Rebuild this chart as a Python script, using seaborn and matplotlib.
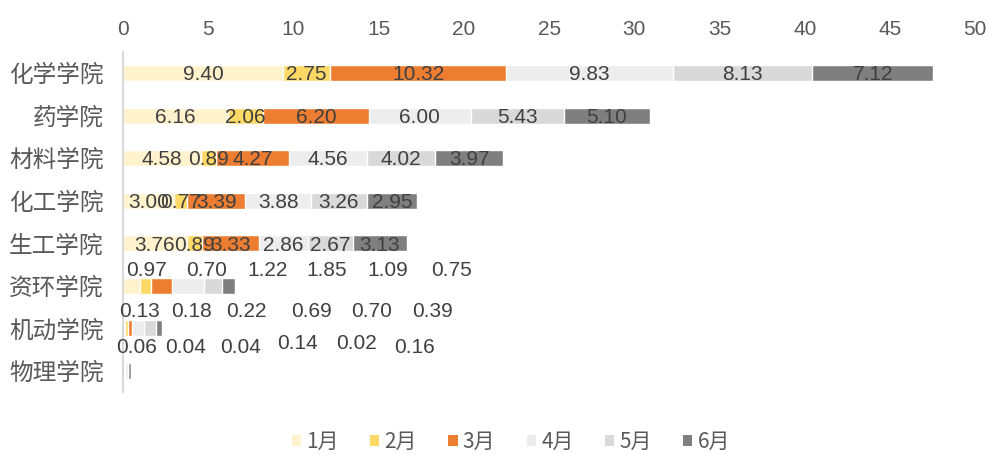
import pandas as pd
import seaborn as sns
import matplotlib.pyplot as plt
from matplotlib.patches import Patch

# data
colleges = ["化学学院", "药学院", "材料学院", "化工学院", "生工学院", "资环学院", "机动学院", "物理学院"]
months = ["1月", "2月", "3月", "4月", "5月", "6月"]
m1 = [9.40, 6.16, 4.58, 3.00, 3.76, 0.97, 0.13, 0.06]
m2 = [2.75, 2.06, 0.89, 0.77, 0.89, 0.70, 0.18, 0.04]
m3 = [10.32, 6.20, 4.27, 3.39, 3.33, 1.22, 0.22, 0.04]
m4 = [9.83, 6.00, 4.56, 3.88, 2.86, 1.85, 0.69, 0.14]
m5 = [8.13, 5.43, 4.02, 3.26, 2.67, 1.09, 0.70, 0.02]
m6 = [7.12, 5.10, 3.97, 2.95, 3.13, 0.75, 0.39, 0.16]

colors = ["#FFF2CC", "#FFD966", "#ED7D31", "#EDEDED", "#D9D9D9", "#7F7F7F"]

sns.set_theme(style="white")
plt.rcParams['font.family'] = ['Noto Sans CJK SC', 'DejaVu Sans']

df = pd.DataFrame({"college": colleges, "1月": m1, "2月": m2, "3月": m3,
                   "4月": m4, "5月": m5, "6月": m6})
cum = df[months].cumsum(axis=1)

fig = plt.figure(figsize=(9.88, 4.55), dpi=100)
ax = fig.add_axes([0.1245, 0.138, 0.8625, 0.748])

# stacked bars: draw the longest cumulative first, shorter ones over it
for i in reversed(range(len(months))):
    sns.barplot(x=cum[months[i]], y=df["college"], color=colors[i],
                width=0.38, orient="h", saturation=1, ax=ax)

# labels: centered in segments for the big rows
txt_kw = dict(fontsize=15, color="#404040", ha="center", va="center",
              family=['Liberation Sans'])
for r in range(5):
    for i, m in enumerate(months):
        v = df.loc[r, m]
        ax.text(cum.loc[r, m] - v / 2, r + 0.04, f"{v:.2f}", **txt_kw)

# small rows: labels sit above the bar (pixel positions from the chart)
px_scale = 852 / 50
above_x = {
    5: [146, 207, 268, 327, 388, 451],
    6: [139, 191, 246, 311, 372, 432],
    7: [137, 186, 241, 297, 356, 414],
}
above_dy = {
    5: [-15.5] * 6,
    6: [-17] * 6,
    7: [-23, -23, -23, -27, -27, -23],
}
for r in [5, 6, 7]:
    for i, m in enumerate(months):
        v = df.loc[r, m]
        x = (above_x[r][i] - 123) / px_scale
        y = r + above_dy[r][i] / 42.5
        ax.text(x, y, f"{v:.2f}", **txt_kw)

ax.set_xlim(0, 50)
ax.set_ylim(7.5, -0.5)
ax.set_xticks(range(0, 51, 5))
ax.xaxis.tick_top()
ax.tick_params(axis="x", length=0, labelsize=15, labelcolor="#595959", pad=9)
ax.tick_params(axis="y", length=0, labelsize=17, labelcolor="#595959", pad=14)
for lbl in ax.get_xticklabels():
    lbl.set_family(['Liberation Sans'])
ax.set_xlabel("")
ax.set_ylabel("")
for s in ["top", "right", "bottom"]:
    ax.spines[s].set_visible(False)
ax.spines["left"].set_color("#D9D9D9")
ax.spines["left"].set_linewidth(1.5)

handles = [Patch(facecolor=c, edgecolor="none") for c in colors]
fig.legend(handles, months, loc="center", bbox_to_anchor=(0.517, 0.028),
           ncol=6, frameon=False, fontsize=15, handlelength=0.45, handleheight=0.45,
           handletextpad=0.25, columnspacing=1.5, labelcolor="#595959")

fig.savefig("out.png", dpi=100)
